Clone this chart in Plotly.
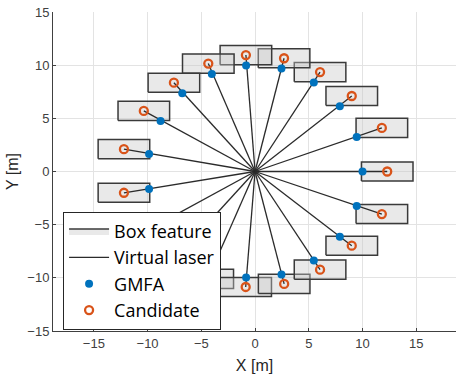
import plotly.graph_objects as go

# Candidate positions (box feature centres)
cand_x = [12.3, 11.8, 9.0, 6.05, 2.7, -0.85, -4.35, -7.55, -10.35, -12.2,
          -12.2, -10.35, -7.55, -4.4, -0.87, 2.71, 6.05, 9.0, 11.8]
cand_y = [0.0, 4.1, 7.1, 9.35, 10.65, 10.95, 10.15, 8.35, 5.7, 2.1,
          -2.0, -5.7, -8.35, -10.1, -10.86, -10.57, -9.23, -6.98, -4.0]

# GMFA points
gmfa_x = [10.0, 9.46, 7.89, 5.47, 2.46, -0.83, -4.02, -6.77, -8.79, -9.86,
          -9.86, -8.79, -6.77, -4.02, -0.83, 2.46, 5.47, 7.89, 9.46]
gmfa_y = [0.0, 3.25, 6.14, 8.37, 9.69, 9.97, 9.16, 7.36, 4.76, 1.65,
          -1.65, -4.76, -7.36, -9.16, -9.97, -9.69, -8.37, -6.14, -3.25]

# Box feature size (m)
BOX_W = 4.8
BOX_H = 1.8

x_ticks = [-15, -10, -5, 0, 5, 10, 15]
y_ticks = [-15, -10, -5, 0, 5, 10, 15]

fig = go.Figure()

for i, (cx, cy) in enumerate(zip(cand_x, cand_y)):
    hw, hh = BOX_W / 2, BOX_H / 2
    fig.add_trace(go.Scatter(
        x=[cx - hw, cx + hw, cx + hw, cx - hw, cx - hw],
        y=[cy - hh, cy - hh, cy + hh, cy + hh, cy - hh],
        mode="lines", fill="toself",
        fillcolor="rgba(200,200,200,0.4)",
        line=dict(color="#3a3a3a", width=1.5),
        name="Box feature", legendgroup="box",
        showlegend=(i == 0), hoverinfo="skip"))

lx, ly = [], []
for cx, cy in zip(cand_x, cand_y):
    lx += [0, cx, None]
    ly += [0, cy, None]
fig.add_trace(go.Scatter(x=lx, y=ly, mode="lines",
                         line=dict(color="#2b2b2b", width=1.3),
                         name="Virtual laser"))

fig.add_trace(go.Scatter(x=gmfa_x, y=gmfa_y, mode="markers",
                         marker=dict(color="#0072BD", size=8),
                         name="GMFA"))
fig.add_trace(go.Scatter(x=cand_x, y=cand_y, mode="markers",
                         marker=dict(symbol="circle-open", color="#D95319", size=8,
                                     line=dict(width=2.3, color="#D95319")),
                         name="Candidate"))

axis_common = dict(
    showgrid=True, gridcolor="#e3e3e3", gridwidth=1,
    zeroline=False, showline=True, linecolor="#404040", linewidth=1,
    ticks="inside", ticklen=3, tickcolor="#404040",
    tickfont=dict(family="Liberation Sans, Arial", size=13, color="#404040"),
    automargin=False,
)

fig.update_xaxes(range=[-18.8, 18.7], tickvals=x_ticks,
                 title=dict(text="X [m]", font=dict(family="Liberation Sans, Arial", size=16, color="#262626"), standoff=10),
                 **axis_common)
fig.update_yaxes(range=[-15, 15], tickvals=y_ticks,
                 title=dict(text="Y [m]", font=dict(family="Liberation Sans, Arial", size=16, color="#262626"), standoff=4),
                 **axis_common)

fig.update_layout(
    width=456, height=377,
    margin=dict(l=53, r=0, t=12, b=46),
    plot_bgcolor="white", paper_bgcolor="white",
    showlegend=True,
    legend=dict(x=0.025, y=0.374, xanchor="left", yanchor="top",
                bgcolor="white", bordercolor="#262626", borderwidth=1,
                font=dict(family="Open Sans, Liberation Sans", size=18, color="black"),
                tracegroupgap=0, itemwidth=40),
)

fig.write_html("out.html", config={"displayModeBar": False},
               post_script="document.body.style.margin='0';")
